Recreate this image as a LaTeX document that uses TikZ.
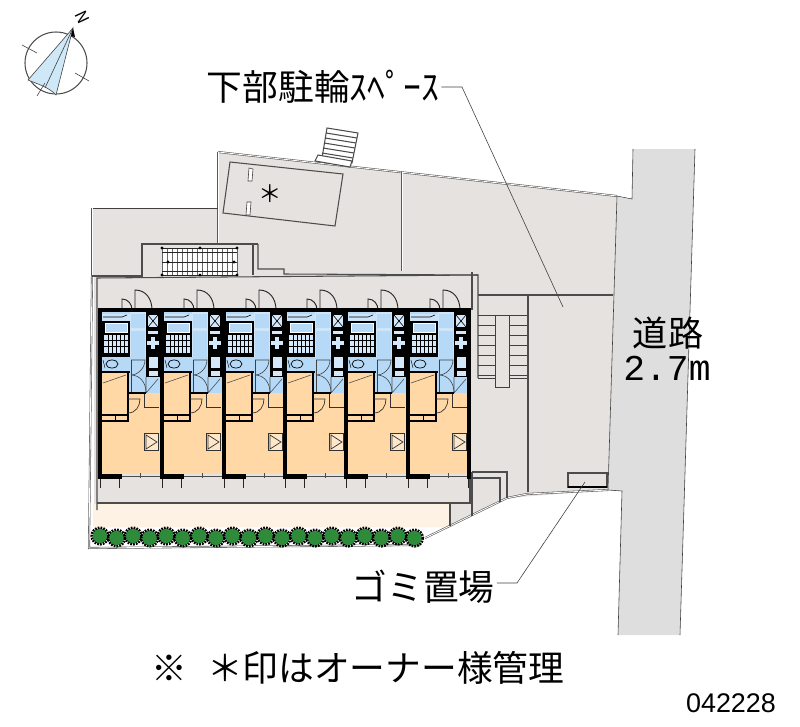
\documentclass[tikz,border=0pt]{standalone}
\usepackage{fontspec}
\usepackage{tikz}
\setmainfont{Noto Sans CJK JP}
\newfontfamily\monofont{Liberation Mono}
\newfontfamily\digitfont{Liberation Sans}
\definecolor{plotgray}{HTML}{E5E2DF}
\definecolor{roadgray}{HTML}{DEDEDE}
\definecolor{creamarea}{HTML}{FDF2E4}
\definecolor{roomorange}{HTML}{FFD8A6}
\definecolor{roomblue}{HTML}{B5D9F7}
\definecolor{treegreen}{HTML}{2E8B3A}
\definecolor{needleblue}{HTML}{CFE8F7}

\begin{document}
\begin{tikzpicture}[x=0.03cm, y=-0.03cm, every node/.style = {inner sep=0pt, outer sep=2pt, text=black},
    thinline/.style = {draw=black!75, line width=0.5pt},
    doorline/.style = {draw=black!85, line width=0.8pt},
    siteline/.style = {draw=black!65, line width=0.5pt, double=white, double distance=0.7pt},
    plotline/.style = {draw=black!70, line width=0.9pt},
    wall/.style = {fill=black},
    bigtext/.style = {font=\fontsize{30.5}{30.5}\selectfont}]
    \useasboundingbox (0,0) rectangle (800,727);

    % road
    \fill[roadgray] (633,149) -- (695,149) -- (680,635) -- (618,635) -- (622,491) -- (608,490) -- (617,196) -- (632,199) -- cycle;
    \draw[thinline] (633,149) -- (632,199) -- (617,196);
    \draw[thinline] (695,149) -- (680,635);
    \draw[thinline] (608,490) -- (622,491) -- (618,635);

    % site
    \fill[plotgray] (92,208) -- (218,208) -- (218,152) -- (617,196) -- (608,490) -- (507,498) -- (472,516) -- (450,527) -- (94,527) -- (94,276) -- (92,276) -- cycle;
    \fill[creamarea] (93,504) rectangle (449,527);
    \draw[siteline] (218,152) -- (617,196);
    \draw[thinline] (617,196) -- (608,490);
    \draw[siteline] (218,152) -- (218,245);
    \draw[thinline] (218,208) -- (92,208);
    \draw[siteline] (92,208) -- (92,276);
    \draw[siteline] (92,276) -- (89,548) -- (420,545);
    \draw[siteline] (402,172) -- (402,271);
    \draw[siteline] (507,498) -- (425,538);
    \draw[siteline] (507,498) -- (527,494) -- (608,490);

    % carport
    \draw[plotline] (230,162) -- (343,174) -- (335,226) -- (223,213) -- cycle;
    \draw[thinline, fill=white] (249,168) -- (253,169) -- (252,181) -- (248,181) -- cycle;
    \draw[thinline, fill=white] (247,202) -- (251,202) -- (250,215) -- (246,215) -- cycle;
    \node (carportmark) at (270,194) [font=\fontsize{20}{20}\selectfont] {＊};

    % upper stairs
    \draw[plotline, fill=white] (327,128) -- (358,133) -- (352,163) -- (322,158) -- cycle;
    \foreach \rung in {1,...,5}
        \draw[plotline] ({327-\rung}, {128+5*\rung}) -- ({358-\rung}, {133+5*\rung});
    \draw[plotline, fill=white] (318,155) -- (315,161) -- (350,167) -- (352,161) -- cycle;

    % stairs behind the building
    \draw[plotline] (92,276) -- (142,276) -- (142,244) -- (253,244) -- (253,275);
    \draw[plotline] (258,244) -- (258,269) -- (284,269) -- (284,274) -- (478,275);
    \draw[plotline] (253,244) -- (258,244);
    \fill[white] (162,248) rectangle (237,275);
    \foreach \rail in {0,...,15}
        \draw[black!60, line width=0.6pt] ({162+5*\rail},248) -- ({162+5*\rail},275);
    \draw[black!85, line width=0.7pt] (162,248) -- (237,248) (162,252) -- (237,252) (162,262) -- (237,262) (162,271) -- (237,271) (162,275) -- (237,275);
    \foreach \dotx/\doty in {162/248,200/248,237/248,168/262,234/262,162/275,200/275,237/275}
        \fill[black] (\dotx,\doty) circle (1.6);

    % building frame
    \draw[plotline] (97,510) -- (97,278) -- (478,275) -- (478,378);
    \draw[plotline] (472,272) -- (472,310);
    \draw[plotline] (97,503) -- (470,503) -- (470,478);

    % bicycle space
    \draw[plotline] (478,295) -- (613,295);
    \draw[plotline, line width=1.2pt] (528,295) -- (528,492);
    \draw[thinline] (478,315) -- (527,315) (478,378) -- (527,378);
    \foreach \rung in {325,335,...,375}
        \draw[thinline] (478,\rung) -- (527,\rung);
    \draw[thinline, fill=plotgray] (495,315) rectangle (509,387);
    \draw[plotline] (568,473) rectangle (607,487);
    \draw[black, line width=0.9pt] (568,487) -- (607,487);

    % bottom right corner
    \draw[plotline] (472,472) -- (507,472) -- (507,498);
    \draw[plotline] (472,478) -- (500,478) -- (500,502);
    \draw[plotline] (472,472) -- (472,516);
    \draw[plotline] (450,503) -- (450,526);

    % flats
    \foreach \wallx in {100,162,224,285,346,408} {
    \begin{scope}[shift={(\wallx,0)}]
        % doors
        \draw[doorline] (35,310) -- (35,290) .. controls (46,290) and (52,299) .. (52,310);
        \draw[doorline] (22,310) -- (22,299) .. controls (28,299) and (32,304) .. (32,310);
        % rooms
        \fill[roomblue] (2,312) rectangle (60,393);
        \fill[roomorange] (2,372) rectangle (28,414);
        \fill[roomorange] (2,393) rectangle (60,474);
        % kitchen
        \fill[white!30!roomblue] (2,314) rectangle (30,321);
        \draw[black, line width=0.5pt] (3,317) -- (22,317) -- (27,315);
        \fill[wall] (2,321) rectangle (30,357);
        \fill[white] (5,323) rectangle (28,333);
        \fill[roomblue] (6,324) rectangle (27,332);
        \fill[white!40!roomblue] (4,335) rectangle (28,353);
        \foreach \gridx in {8,12,16,20,24}
            \draw[black, line width=0.7pt] (\gridx,335) -- (\gridx,353);
        \foreach \gridy in {340,346}
            \draw[black, line width=0.7pt] (4,\gridy) -- (28,\gridy);
        % toilet
        \fill[roomblue] (2,357) rectangle (28,372);
        \draw[black, line width=0.6pt] (12,364) ellipse (6 and 4);
        \draw[black, line width=0.4pt] (3,360) -- (5,368);
        % corridor
        \fill[white!35!roomblue] (30,312) rectangle (46,357);
        \fill[roomblue] (31,314) rectangle (45,328);
        \fill[roomblue] (31,331) rectangle (45,357);
        \draw[thinline] (31,360) -- (45,360) .. controls (45,368) and (38,375) .. (31,375);
        \draw[thinline] (31,375) .. controls (40,375) and (46,383) .. (46,392);
        \draw[thinline] (31,360) -- (31,393);
        % shaft
        \fill[wall] (46,312) rectangle (60,377);
        \fill[white!40!roomblue] (48,315) rectangle (58,327);
        \draw[black, line width=0.5pt] (48,315) -- (58,327) (58,315) -- (48,327);
        \fill[white!40!roomblue] (48,331) rectangle (58,334);
        \fill[white!40!roomblue] (51,337) rectangle (55,349);
        \fill[white!40!roomblue] (47,341) rectangle (59,345);
        \fill[white!40!roomblue] (49,357) rectangle (58,368);
        \fill[white!40!roomblue] (49,371) rectangle (58,376);
        \draw[thinline, white!30!black] (46,377) -- (46,393) (46,393) -- (58,379);
        % bedroom
        \fill[wall] (27,372) rectangle (29,422);
        \fill[wall] (2,414) rectangle (29,416);
        \fill[wall] (2,420) rectangle (29,422);
        \draw[black, line width=0.5pt] (15,416) -- (15,420);
        \fill[wall] (2,371) rectangle (30,373);
        \draw[black!70, line width=0.5pt] (3,383) -- (26,375);
        \fill[wall] (28,392) rectangle (46,394);
        \draw[black!80, line width=0.6pt] (28,399) -- (40,399) .. controls (40,406) and (36,413) .. (28,413);
        \draw[black!80, line width=0.6pt] (44,394) -- (44,407) -- (59,407);
        % window unit
        \draw[black!80, fill=white!40!roomorange, line width=0.6pt] (44,433) rectangle (58,450);
        \draw[black!80, line width=0.6pt] (46,435) -- (57,442) -- (46,449) -- cycle;
        % walls
        \fill[wall] (-2,308) rectangle (61,312);
        \fill[wall] (-2,308) rectangle (2,479);
        \fill[wall] (-2,474) rectangle (22,479);
        \draw[black!70, line width=0.5pt] (22,476) -- (60,476) (40,473) -- (40,478);
        \fill[black!85] (0,479) rectangle (1.4,488);
        \fill[black!85] (19,479) rectangle (20.4,488);
    \end{scope}
    }
    \fill[wall] (467,308) rectangle (471,479);
    \fill[black!85] (468,479) rectangle (469.4,488);

    % hedge
    \foreach \treeno in {0,...,19} {
        \pgfmathsetmacro{\treex}{100+16.55*\treeno}
        \pgfmathsetmacro{\treey}{mod(\treeno,2)==0 ? 536 : 538}
        \fill[treegreen] (\treex,\treey) circle (7.5);
        \draw[black, line width=2.2pt, dash pattern=on 1.5pt off 0.9pt] (\treex,\treey) circle (8.3);
        \fill[treegreen] (\treex,\treey) circle (7);
    }

    % compass
    \coordinate (needletip) at (73,28);
    \coordinate (needleleft) at (28,80);
    \coordinate (needleright) at (56,95);
    \draw[black!70, line width=0.9pt] (56,63) circle (31);
    \draw[thinline, fill=needleblue] (needletip) -- (needleleft) .. controls (38,84) and (50,88) .. (needleright) -- cycle;
    \draw[thinline] (needletip) -- (45,88);
    \fill[black] (needletip) -- (71,36) -- (75,37) -- cycle;
    \draw[thinline] (22,45) -- (37,53) (75,73) -- (89,81) (37,96) -- (45,83);
    \node (northmark) at (82,17) [rotate=-65, font=\fontsize{14}{14}\selectfont\itshape] {N};

    % labels
    \node (bikelabel) at (323,87) [bigtext] {下部駐輪ｽﾍﾟｰｽ};
    \coordinate (bikebend) at (462,87);
    \coordinate (bikeend) at (563,307);
    \draw[thinline] (bikelabel.east) -- (bikebend) -- (bikeend);
    \node (trashlabel) at (423,587) [bigtext] {ゴミ置場};
    \coordinate (trashbend) at (517,583);
    \coordinate (trashend) at (585,482);
    \draw[thinline] (trashlabel.east |- trashbend) -- (trashbend) -- (trashend);
    \node (roadname) at (668,333) [font=\fontsize{30}{30}\selectfont] {道路};
    \node (roadwidth) at (667,368) [font=\fontsize{31}{31}\selectfont\monofont] {2.7m};
    \node (notelabel) at (358,668) [bigtext] {※\hspace{0.55em}＊印はオーナー様管理};
    \node (drawingno) at (731,703) [font=\fontsize{23}{23}\selectfont\digitfont] {042228};
\end{tikzpicture}
\end{document}
